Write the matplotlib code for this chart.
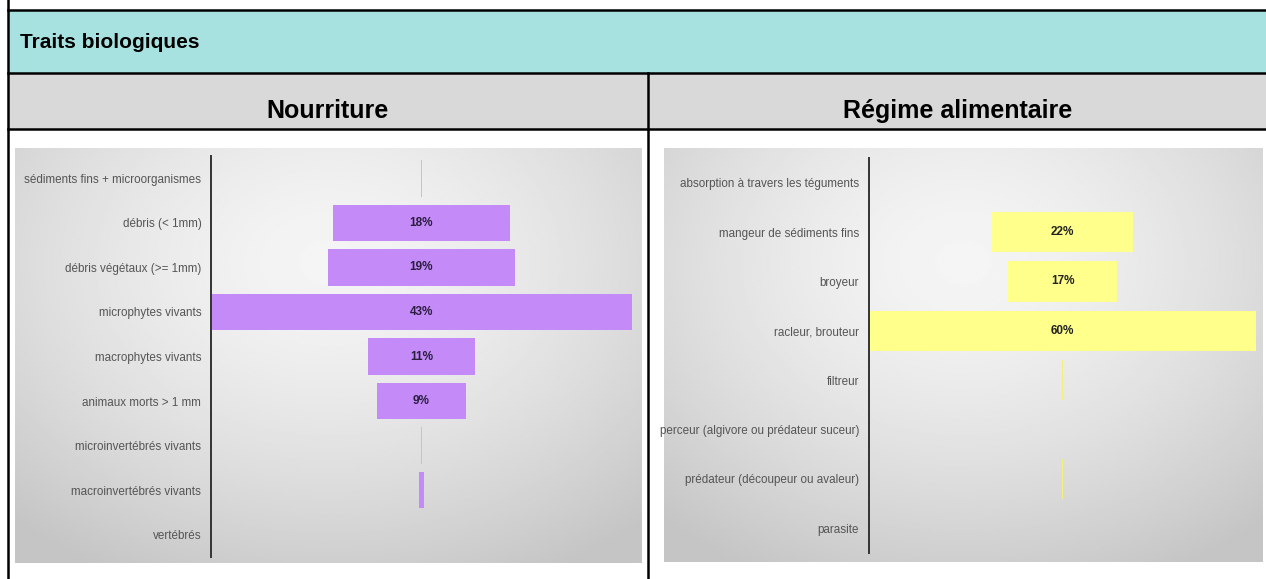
import numpy as np
import matplotlib.pyplot as plt
from matplotlib.patches import Rectangle
from matplotlib.lines import Line2D

plt.rcParams['font.family'] = ['Liberation Sans', 'DejaVu Sans']

# === DONNEES ===
title = "Traits biologiques"

nourriture_titre = "Nourriture"
nourriture_cats = [
    "sédiments fins + microorganismes",
    "débris (< 1mm)",
    "débris végétaux (>= 1mm)",
    "microphytes vivants",
    "macrophytes vivants",
    "animaux morts > 1 mm",
    "microinvertébrés vivants",
    "macroinvertébrés vivants",
    "vertébrés",
]
nourriture_vals = [0.1, 18, 19, 43, 11, 9, 0.1, 0.5, 0]

regime_titre = "Régime alimentaire"
regime_cats = [
    "absorption à travers les téguments",
    "mangeur de sédiments fins",
    "broyeur",
    "racleur, brouteur",
    "filtreur",
    "perceur (algivore ou prédateur suceur)",
    "prédateur (découpeur ou avaleur)",
    "parasite",
]
regime_vals = [0, 22, 17, 60, 0.3, 0, 0.3, 0]

W, H = 1266, 579


def box(x0, y0, x1, y1):
    # coordonnees pixel -> fraction de figure
    return [x0 / W, 1 - y1 / H, (x1 - x0) / W, (y1 - y0) / H]


def hline(fig, y, x0, x1):
    fig.add_artist(Line2D([x0 / W, x1 / W], [1 - y / H, 1 - y / H],
                          transform=fig.transFigure, color="black", lw=1.8))


def vline(fig, x, y0, y1):
    fig.add_artist(Line2D([x / W, x / W], [1 - y0 / H, 1 - y1 / H],
                          transform=fig.transFigure, color="black", lw=1.8))


def fond_degrade(fig, rect):
    ax = fig.add_axes(rect)
    xx, yy = np.meshgrid(np.linspace(-1, 1, 300), np.linspace(-1, 1, 200))
    r = np.sqrt((xx * 0.9) ** 2 + ((yy + 0.45) * 0.8) ** 2)
    img = np.clip(0.96 - 0.12 * r ** 1.5, 0.77, 1)
    ax.imshow(img, cmap="gray", vmin=0, vmax=1, aspect="auto",
              extent=[0, 1, 0, 1], origin="upper")
    ax.axis("off")
    return ax


def entonnoir(fig, rect, cats, vals, half, color, thin_color, txt_color):
    ax = fig.add_axes(rect)
    ax.set_facecolor("none")
    y = np.arange(len(cats))
    v = np.array(vals, dtype=float)
    colors = [color if val >= 0.4 else thin_color for val in v]
    ax.barh(y, v, left=-v / 2, height=0.82, color=colors, edgecolor="none")
    for yi, val in zip(y, v):
        if val >= 1:
            ax.text(0, yi, f"{val:.0f}%", ha="center", va="center",
                    fontsize=8.5, fontweight="bold", color=txt_color)
    ax.set_xlim(-half, half)
    ax.set_ylim(len(cats) - 0.5, -0.5)
    ax.set_yticks(y)
    ax.set_yticklabels(cats, fontsize=8.4, color="#555555")
    ax.tick_params(axis="y", length=0, pad=7)
    ax.set_xticks([])
    for s in ["top", "right", "bottom"]:
        ax.spines[s].set_visible(False)
    ax.spines["left"].set_color("#333333")
    ax.spines["left"].set_linewidth(1.4)
    return ax


fig = plt.figure(figsize=(12.66, 5.79), dpi=100)
fig.patch.set_facecolor("white")

# === TABLEAU ===
fig.add_artist(Rectangle((8 / W, 1 - 73 / H), (W - 8) / W, 63 / H,
                         transform=fig.transFigure, facecolor="#A8E2E0",
                         edgecolor="none"))
fig.add_artist(Rectangle((8 / W, 1 - 129 / H), (W - 8) / W, 56 / H,
                         transform=fig.transFigure, facecolor="#D9D9D9",
                         edgecolor="none"))
hline(fig, 10, 8, W)
hline(fig, 73, 8, W)
hline(fig, 129, 8, W)
vline(fig, 8, 0, H)
vline(fig, 648, 73, H)

fig.text(20 / W, 1 - 42 / H, title, ha="left", va="center",
         fontsize=15, fontweight="bold")
fig.text(328 / W, 1 - 111 / H, nourriture_titre, ha="center", va="center",
         fontsize=18, fontweight="bold")
fig.text(958 / W, 1 - 111 / H, regime_titre, ha="center", va="center",
         fontsize=18, fontweight="bold")

# === GRAPHIQUES ===
fond_degrade(fig, box(15, 148, 642, 563))
fond_degrade(fig, box(664, 148, 1263, 562))

entonnoir(fig, box(211, 156, 632, 557), nourriture_cats, nourriture_vals,
          21.5, "#C48BF8", "#C9C0D6", "#2A1E40")
entonnoir(fig, box(869, 158, 1256, 553), regime_cats, regime_vals,
          30, "#FFFF8C", "#F2F27A", "#222222")

plt.savefig("out.png", dpi=100)
plt.close()
